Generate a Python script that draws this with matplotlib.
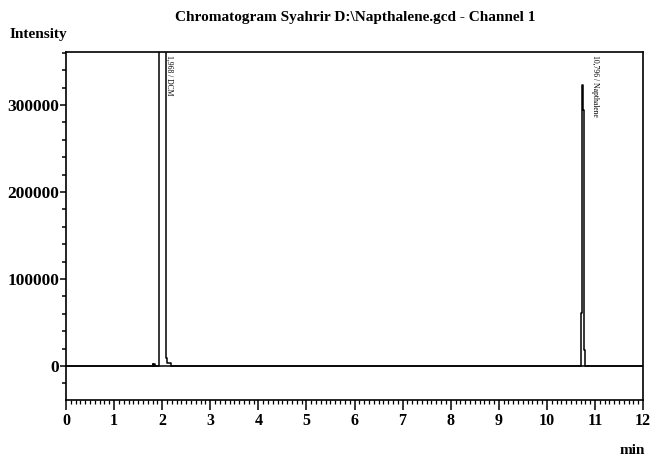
import matplotlib.pyplot as plt
from matplotlib.ticker import MultipleLocator

# retention time (min) and detector signal
time = [0.0, 1.80, 1.80, 1.81, 1.81, 1.84, 1.84, 1.85, 1.85, 1.94, 1.94,
        2.08, 2.08, 2.10, 2.10, 2.19, 2.19,
        10.71, 10.71, 10.73, 10.73, 10.75, 10.75, 10.78, 10.78, 10.80, 10.80, 12.0]
signal = [0, 0, 2500, 2500, 0, 0, 2500, 2500, 0, 0, 2500000,
          2500000, 9000, 9000, 3000, 3000, 0,
          0, 61000, 61000, 323000, 323000, 294000, 294000, 18000, 18000, 0, 0]

peak_rt = [1.968, 10.796]
peak_name = ["DCM", "Napthalene"]
peak_label_x = [2.14, 11.0]

serif = "Liberation Serif"

fig = plt.figure(figsize=(6.51, 4.57), dpi=100)
ax = fig.add_axes([0.1014, 0.1247, 0.8864, 0.7615])

ax.plot(time, signal, color="black", lw=1.1)
ax.axhline(0, color="black", lw=1.1)

ax.set_xlim(0, 12)
ax.set_ylim(-39000, 361000)

ax.xaxis.set_major_locator(MultipleLocator(1))
ax.xaxis.set_minor_locator(MultipleLocator(0.1))
ax.yaxis.set_major_locator(MultipleLocator(100000))
ax.yaxis.set_minor_locator(MultipleLocator(20000))
ax.set_yticks([0, 100000, 200000, 300000])
ax.set_yticklabels(["0", "100000", "200000", "300000"])

ax.tick_params(axis="x", which="major", direction="out", length=7, width=1.1,
               labelsize=11.5, pad=2)
ax.tick_params(axis="x", which="minor", direction="out", length=3, width=0.9)
ax.tick_params(axis="y", which="major", direction="out", length=4, width=1.1,
               labelsize=12.5, pad=1)
ax.tick_params(axis="y", which="minor", direction="out", length=3, width=1.1)
for lbl in ax.get_xticklabels() + ax.get_yticklabels():
    lbl.set_fontfamily(serif)
    lbl.set_fontweight("bold")

for s in ax.spines.values():
    s.set_linewidth(1.2)

for rt, nm, lx in zip(peak_rt, peak_name, peak_label_x):
    ax.text(lx, 358000, f"{rt:.3f}".replace(".", ",") + " / " + nm,
            rotation=-90, ha="center", va="top", fontsize=5.5,
            fontfamily=serif, color="black")

fig.text(0.545, 0.962, "Chromatogram Syahrir D:\\Napthalene.gcd - Channel 1",
         ha="center", va="center", fontsize=11, fontfamily=serif, fontweight="bold")
fig.text(0.014, 0.924, "Intensity", ha="left", va="center", fontsize=11,
         fontfamily=serif, fontweight="bold")
fig.text(0.99, 0.0, "min", ha="right", va="bottom", fontsize=11,
         fontfamily=serif, fontweight="bold")

fig.savefig("out.png", dpi=100)
